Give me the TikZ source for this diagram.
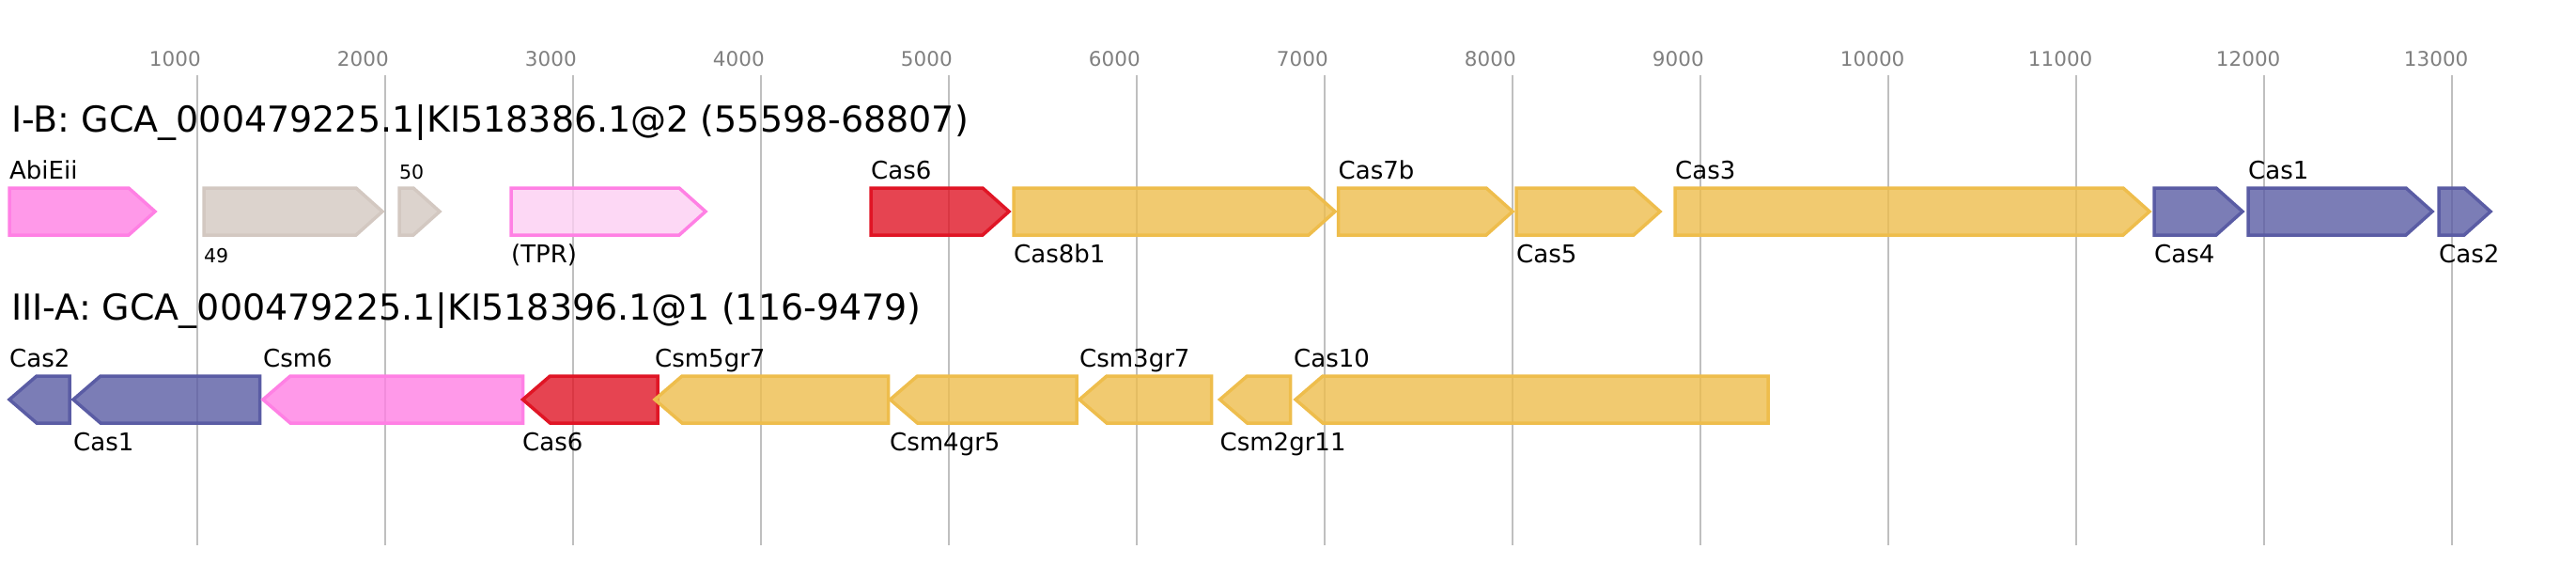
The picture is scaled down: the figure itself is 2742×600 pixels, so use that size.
\documentclass[tikz,border=0pt]{standalone}
\usepackage{fontspec}
\setmainfont{DejaVu Sans}
\definecolor{cpink}{HTML}{FF80E4}
\definecolor{cgray}{HTML}{D3C8C1}
\definecolor{ctprfill}{HTML}{FCCEF2}
\definecolor{cred}{HTML}{E01525}
\definecolor{cyel}{HTML}{EEBD4C}
\definecolor{cblue}{HTML}{5A5CA4}
\definecolor{cgrid}{HTML}{BFBFBF}
\definecolor{ctick}{HTML}{808080}
\newcommand\rgene[4]{\draw[#1] (#2,#4) -- ({#3-28},#4) -- (#3,{#4+25}) -- ({#3-28},{#4+50}) -- (#2,{#4+50}) -- cycle;}
\newcommand\lgene[4]{\draw[#1] (#2,{#4+25}) -- ({#2+29},#4) -- (#3,#4) -- (#3,{#4+50}) -- ({#2+29},{#4+50}) -- cycle;}
\tikzset{
  genebase/.style={line width=3.5pt, fill opacity=0.8},
  gpink/.style={genebase, draw=cpink, fill=cpink},
  ggray/.style={genebase, draw=cgray, fill=cgray},
  gtpr/.style={genebase, draw=cpink, fill=ctprfill},
  gred/.style={genebase, draw=cred, fill=cred},
  gyel/.style={genebase, draw=cyel, fill=cyel},
  gblue/.style={genebase, draw=cblue, fill=cblue},
  lab/.style={inner sep=0pt, anchor=base west, font=\fontsize{26}{30}\selectfont},
  smalllab/.style={inner sep=0pt, anchor=base west, font=\fontsize{20.5}{24}\selectfont},
  ttl/.style={inner sep=0pt, anchor=base west, font=\fontsize{38}{44}\selectfont},
  ticklab/.style={inner sep=0pt, anchor=base west, text=ctick, font=\fontsize{21.5}{25}\selectfont},
  gridln/.style={draw=cgrid, line width=2pt}
}
\begin{document}
\begin{tikzpicture}[x=1pt,y=-1pt]
\useasboundingbox (0,0) rectangle (2742,600);
% grid and ticks
\foreach \u in {1000,2000,...,13000}{
  \pgfmathsetmacro\gx{9.8+0.2*\u}
  \coordinate (gt\u) at (\gx,80);
  \coordinate (gb\u) at (\gx,580);
  \draw[gridln] (gt\u) -- (gb\u);
  \node[ticklab] (tk\u) at ({\gx-51},70) {\u};
}
% titles
\node[ttl] (t1) at (12,140) {I-B: GCA\_000479225.1\textbar KI518386.1@2 (55598-68807)};
\node[ttl] (t2) at (12,340) {III-A: GCA\_000479225.1\textbar KI518396.1@1 (116-9479)};
% row 1 genes
\rgene{gpink}{10}{165}{200}
\rgene{ggray}{217}{407}{200}
\rgene{ggray}{425}{468}{200}
\rgene{gtpr}{544}{751}{200}
\rgene{gred}{927}{1074}{200}
\rgene{gyel}{1079}{1421}{200}
\rgene{gyel}{1424.5}{1610}{200}
\rgene{gyel}{1614}{1767}{200}
\rgene{gyel}{1783}{2288}{200}
\rgene{gblue}{2293}{2387}{200}
\rgene{gblue}{2393}{2589}{200}
\rgene{gblue}{2596}{2651}{200}
% row 1 labels
\node[lab] (a1) at (10,190) {AbiEii};
\node[smalllab] (a2) at (425,190) {50};
\node[lab] (a3) at (927,190) {Cas6};
\node[lab] (a4) at (1424.5,190) {Cas7b};
\node[lab] (a5) at (1783,190) {Cas3};
\node[lab] (a6) at (2393,190) {Cas1};
\node[smalllab] (b1) at (217,279.5) {49};
\node[lab] (b2) at (544,279.5) {(TPR)};
\node[lab] (b3) at (1079,279.5) {Cas8b1};
\node[lab] (b4) at (1614,279.5) {Cas5};
\node[lab] (b5) at (2293,279.5) {Cas4};
\node[lab] (b6) at (2596,279.5) {Cas2};
% row 2 genes
\lgene{gblue}{10}{74}{400}
\lgene{gblue}{78}{276.5}{400}
\lgene{gpink}{280}{556.5}{400}
\lgene{gred}{556.5}{700}{400}
\lgene{gyel}{697}{945.5}{400}
\lgene{gyel}{947.5}{1146}{400}
\lgene{gyel}{1149}{1289.5}{400}
\lgene{gyel}{1298.5}{1373.5}{400}
\lgene{gyel}{1379}{1882}{400}
% row 2 labels
\node[lab] (c1) at (10,390) {Cas2};
\node[lab] (c2) at (280,390) {Csm6};
\node[lab] (c3) at (697,390) {Csm5gr7};
\node[lab] (c4) at (1149,390) {Csm3gr7};
\node[lab] (c5) at (1377,390) {Cas10};
\node[lab] (d1) at (78,479.5) {Cas1};
\node[lab] (d2) at (556,479.5) {Cas6};
\node[lab] (d3) at (947,479.5) {Csm4gr5};
\node[lab] (d4) at (1298.5,479.5) {Csm2gr11};
\end{tikzpicture}
\end{document}
